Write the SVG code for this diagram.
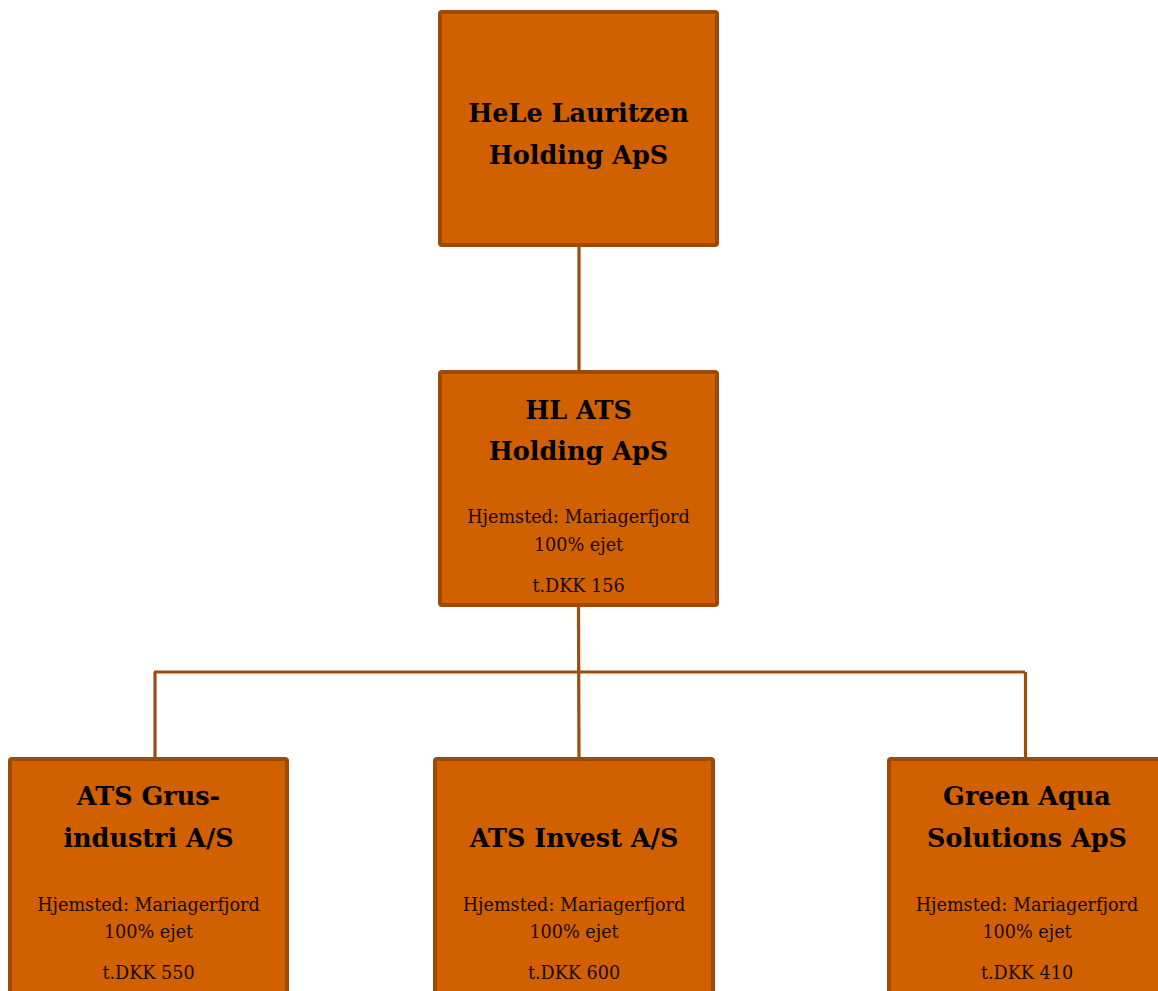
<svg xmlns="http://www.w3.org/2000/svg" width="1158" height="991" viewBox="0 0 1158 991">
<style>
.box{fill:#D16000;stroke:#9C4A08;stroke-width:4}
.t{font-family:"DejaVu Serif","Liberation Serif",serif;font-weight:bold;font-size:25.5px;fill:#000;text-anchor:middle}
.s{font-family:"DejaVu Serif","Liberation Serif",serif;font-size:17.6px;fill:#1a0a00;text-anchor:middle}
.c{stroke:#A04C0C;stroke-width:3.2;fill:none}
</style>
<rect width="1158" height="991" fill="#fff"/>
<g id="connectors">
<line class="c" x1="579" y1="247" x2="579" y2="370"/>
<line class="c" x1="578.5" y1="607" x2="579" y2="767"/>
<line class="c" x1="154" y1="672" x2="1025" y2="672"/>
<line class="c" x1="155" y1="672" x2="155" y2="757"/>
<line class="c" x1="1025.5" y1="672" x2="1025.5" y2="757"/>
</g>
<g id="hele">
<rect class="box" x="440" y="12" width="277" height="233" rx="2"/>
<text class="t" x="578.5" y="122">HeLe Lauritzen</text>
<text class="t" x="578.5" y="164">Holding ApS</text>
</g>
<g id="hlats">
<rect class="box" x="440" y="372" width="277" height="233" rx="2"/>
<text class="t" x="578.5" y="419">HL ATS</text>
<text class="t" x="578.5" y="460">Holding ApS</text>
<text class="s" x="578.5" y="523">Hjemsted: Mariagerfjord</text>
<text class="s" x="578.5" y="550.5">100% ejet</text>
<text class="s" x="578.5" y="591.5">t.DKK 156</text>
</g>
<g id="grus">
<rect class="box" x="10" y="759" width="277" height="240" rx="2"/>
<text class="t" x="148.5" y="805">ATS Grus-</text>
<text class="t" x="148.5" y="846.5">industri A/S</text>
<text class="s" x="148.5" y="910.5">Hjemsted: Mariagerfjord</text>
<text class="s" x="148.5" y="937.5">100% ejet</text>
<text class="s" x="148.5" y="979">t.DKK 550</text>
</g>
<g id="invest">
<rect class="box" x="435" y="759" width="278" height="240" rx="2"/>
<text class="t" x="574" y="847">ATS Invest A/S</text>
<text class="s" x="574" y="911">Hjemsted: Mariagerfjord</text>
<text class="s" x="574" y="937.5">100% ejet</text>
<text class="s" x="574" y="979">t.DKK 600</text>
</g>
<g id="greenaqua">
<rect class="box" x="889" y="759" width="277" height="240" rx="2"/>
<text class="t" x="1027" y="805">Green Aqua</text>
<text class="t" x="1027" y="846.5">Solutions ApS</text>
<text class="s" x="1027" y="911">Hjemsted: Mariagerfjord</text>
<text class="s" x="1027" y="937.5">100% ejet</text>
<text class="s" x="1027" y="979">t.DKK 410</text>
</g>
</svg>
